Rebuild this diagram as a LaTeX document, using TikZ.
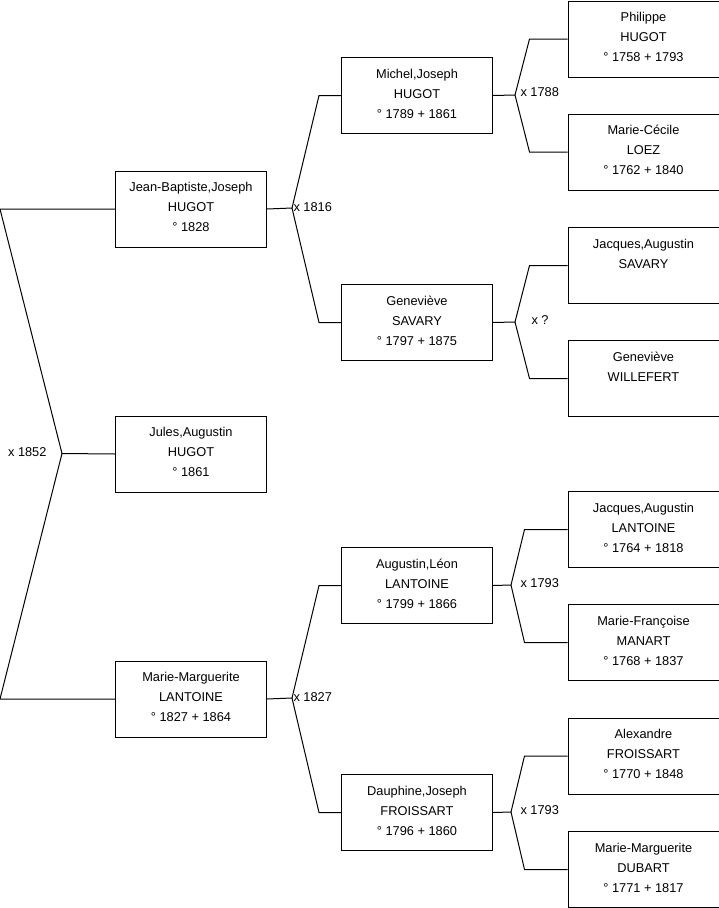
\documentclass[tikz,border=0pt]{standalone}
\usepackage{fontspec}
\setmainfont{Liberation Sans}
\usetikzlibrary{positioning}

\begin{document}
\begin{tikzpicture}[
			x=1pt, y=-1pt,
			line width=1pt,
			person/.style={draw, anchor=north west, inner sep=0pt,
				font=\fontsize{12.8}{20}\selectfont,
				execute at begin node={\begin{minipage}[c][76pt][t]{151pt}\centering\rule{0pt}{20.5pt}},
				execute at end node={\end{minipage}}},
			wed/.style={inner sep=0pt, font=\fontsize{12.8}{14}\selectfont},
			]
			\useasboundingbox (0,0) rectangle (719,908);
			% generation 1
			\node[person] (jb) at (115,170.5) {Jean-Baptiste,Joseph\\HUGOT\\° 1828};
			\node[person] (jules) at (115,415.5) {Jules,Augustin\\HUGOT\\° 1861};
			\node[person] (mmL) at (115,660.5) {Marie-Marguerite\\LANTOINE\\° 1827 + 1864};
			% generation 2
			\node[person] (michel) at (341,57) {Michel,Joseph\\HUGOT\\° 1789 + 1861};
			\node[person] (genS) at (341,284) {Geneviève\\SAVARY\\° 1797 + 1875};
			\node[person] (augustin) at (341,547) {Augustin,Léon\\LANTOINE\\° 1799 + 1866};
			\node[person] (dauphine) at (341,774) {Dauphine,Joseph\\FROISSART\\° 1796 + 1860};
			% generation 3
			\node[person] (philippe) at (567.5,0.5) {Philippe\\HUGOT\\° 1758 + 1793};
			\node[person] (mcecile) at (567.5,113.5) {Marie-Cécile\\LOEZ\\° 1762 + 1840};
			\node[person] (jacS) at (567.5,227) {Jacques,Augustin\\SAVARY};
			\node[person] (genW) at (567.5,340) {Geneviève\\WILLEFERT};
			\node[person] (jacL) at (567.5,491) {Jacques,Augustin\\LANTOINE\\° 1764 + 1818};
			\node[person] (mfr) at (567.5,604) {Marie-Françoise\\MANART\\° 1768 + 1837};
			\node[person] (alex) at (567.5,717.5) {Alexandre\\FROISSART\\° 1770 + 1848};
			\node[person] (mmD) at (567.5,831) {Marie-Marguerite\\DUBART\\° 1771 + 1817};
			% junctions
			\coordinate (j0) at (62,453.5);
			\coordinate (m1) at (292,208);
			\coordinate (m2) at (292,698);
			\coordinate (m3) at (515,95);
			\coordinate (m4) at (515,322);
			\coordinate (m5) at (511,585);
			\coordinate (m6) at (511,812);
			\draw (jb.west) -- ++(-115,0) -- (j0) -- (jules.west);
			\draw (mmL.west) -- ++(-115,0) -- (j0);
			\foreach \pa/\jn/\up/\dn/\dx in {jb/m1/michel/genS/22, mmL/m2/augustin/dauphine/22,
				michel/m3/philippe/mcecile/38, genS/m4/jacS/genW/38,
				augustin/m5/jacL/mfr/43, dauphine/m6/alex/mmD/43}
			{
				\draw (\up.west) -- ++(-\dx,0) -- (\jn);
				\draw (\dn.west) -- ++(-\dx,0) -- (\jn) -- (\pa.east);
			}
			% marriages
			\node[wed, anchor=east] (w0) at (47,452) {x 1852};
			\node[wed, anchor=west] (w1) at (293,207) {x 1816};
			\node[wed, anchor=west] (w2) at (293,697) {x 1827};
			\node[wed, anchor=west] (w3) at (520,92) {x 1788};
			\node[wed, anchor=west] (w4) at (531,320) {x ?};
			\node[wed, anchor=west] (w5) at (520,583) {x 1793};
			\node[wed, anchor=west] (w6) at (520,810) {x 1793};
		\end{tikzpicture}
\end{document}
